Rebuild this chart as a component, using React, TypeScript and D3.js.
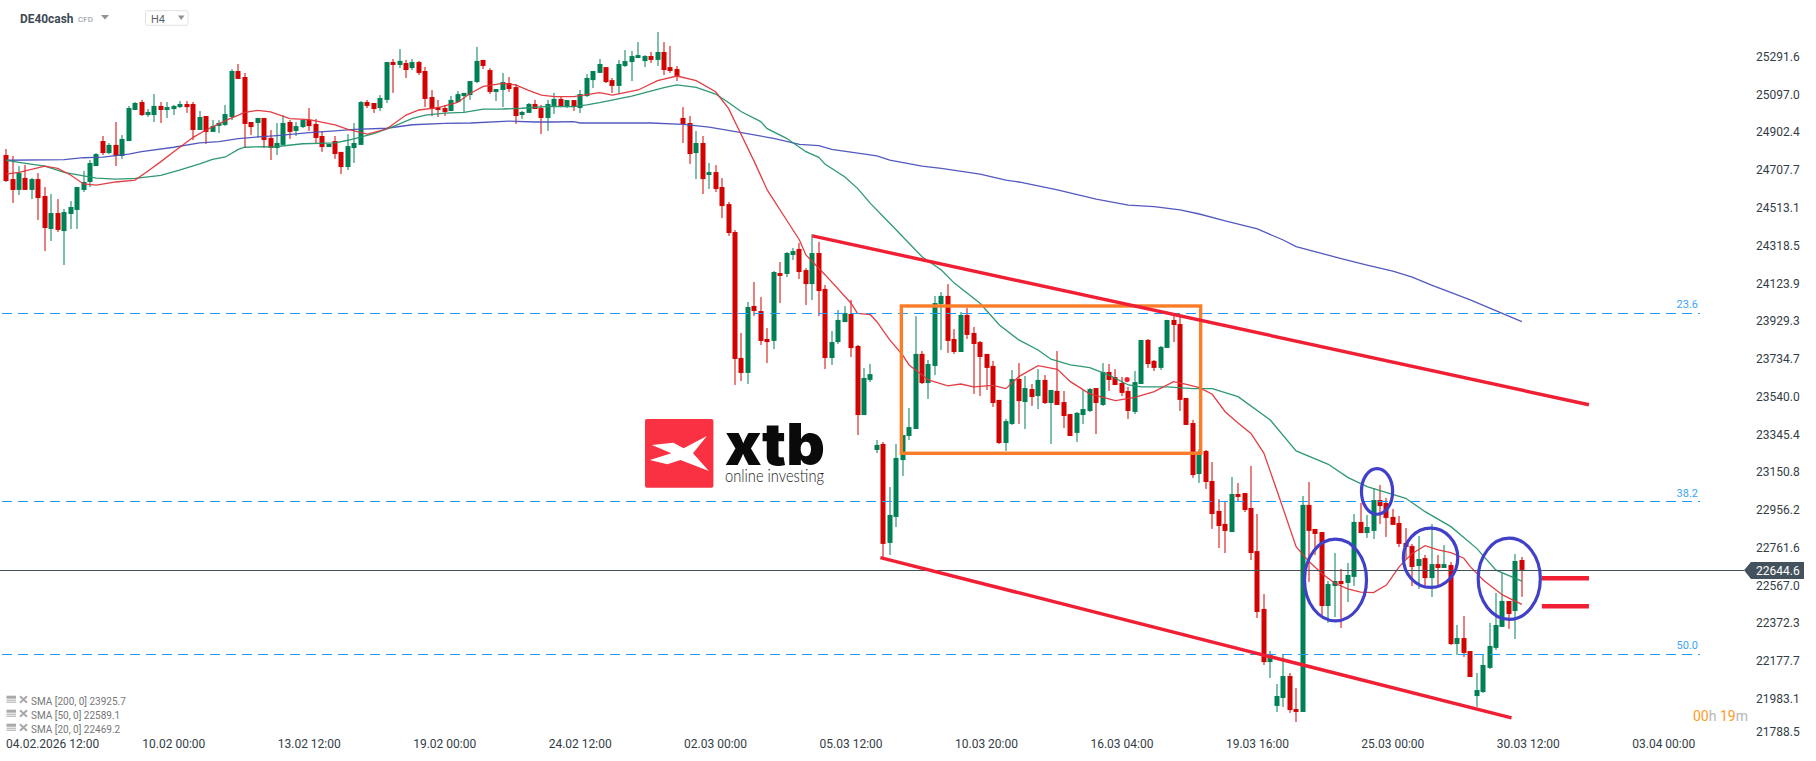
import React from "react";
import * as d3 from "d3";

// H4 candles
const opens = [
  24785,24661,24605,24667,24605,24661,24574,24404,24486,24393,
  24481,24502,24605,24646,24728,24857,24795,24837,24780,24857,
  25017,25058,24991,24991,25038,25017,25022,25032,25048,25048,
  24914,24986,24904,24935,24940,24981,25218,25187,24955,24950,
  24976,24873,24821,24837,24955,24909,24929,24965,24945,24883,
  24826,24857,24801,24723,24821,24837,25058,25053,25027,25069,
  25264,25249,25259,25233,25264,25218,25084,25032,25027,25012,
  25058,25089,25094,25161,25275,25223,25110,25120,25156,25135,
  24991,25002,25048,25027,24976,25037,25074,25037,25068,25027,
  25089,25171,25208,25238,25171,25141,25244,25264,25285,25269,
  25295,25275,25316,25238,25228,24976,24950,24795,24847,24682,
  24697,24620,24532,24388,23739,23662,24007,23981,23837,23827,
  24177,24172,24270,24301,24192,24120,24280,24095,23739,23821,
  23924,23966,23801,23445,23626,23265,23296,22786,22920,23213,
  23337,23373,23760,23610,23698,24017,24059,23837,23770,23961,
  23868,23821,23760,23698,23523,23301,23399,23631,23512,23579,
  23543,23626,23507,23569,23512,23450,23353,23445,23466,23584,
  23497,23667,23641,23610,23569,23461,23605,23832,23724,23688,
  23791,23935,23914,23533,23404,23141,23260,23105,22951,22884,
  22842,23038,23043,22966,22744,22446,22172,21946,21987,22100,
  21930,21915,22982,22858,22842,22461,22564,22590,22580,22611,
  22894,22837,22848,23007,22992,22920,22889,22786,22770,22667,
  22708,22605,22677,22657,22672,22265,22296,22229,21997,22018,
  22142,22245,22353,22487,22435,22698,
];
const highs = [
  24816,24780,24728,24734,24667,24692,24620,24584,24558,24507,
  24548,24620,24703,24759,24795,24883,24847,24955,24888,25038,
  25058,25069,25022,25099,25058,25058,25043,25063,25063,25058,
  25012,24986,24965,24965,25043,25228,25254,25208,24955,24976,
  24976,24914,24950,24991,24965,24955,24971,25027,24971,24909,
  24842,24883,24801,24893,24950,25063,25069,25053,25094,25264,
  25280,25331,25275,25280,25270,25239,25120,25069,25043,25089,
  25115,25105,25166,25342,25275,25233,25125,25208,25187,25151,
  25012,25053,25069,25043,25069,25105,25084,25068,25068,25120,
  25202,25218,25280,25238,25182,25275,25326,25321,25367,25300,
  25316,25419,25367,25347,25244,25032,24986,24909,24883,24744,
  24733,24666,24543,24398,23868,24028,24131,24053,23894,24187,
  24234,24285,24306,24332,24203,24378,24337,24115,23878,23986,
  24007,24038,23806,23687,23708,23316,23306,23074,23296,23342,
  23481,23955,23775,23729,24059,24079,24120,23888,23976,23997,
  23899,23827,23760,23724,23523,23425,23677,23713,23646,23605,
  23682,23651,23574,23775,23569,23450,23461,23574,23584,23584,
  23713,23708,23682,23641,23590,23672,23832,23837,23729,23801,
  23935,23961,23950,23533,23420,23270,23265,23203,23012,23002,
  23126,23095,23043,23183,22935,22523,22229,22059,22209,22116,
  22039,23028,23100,22858,22842,22590,22734,22652,22683,22935,
  22992,22930,23069,23085,23018,22961,22925,22863,22781,22822,
  22724,22884,22724,22775,22688,22363,22410,22229,22116,22209,
  22374,22528,22631,22487,22729,22714,
];
const lows = [
  24646,24538,24579,24605,24558,24450,24290,24342,24388,24218,
  24404,24404,24594,24620,24728,24785,24790,24728,24765,24857,
  25017,24986,24981,24955,24950,24976,24991,25027,25002,24862,
  24914,24842,24904,24898,24935,24965,25177,24821,24888,24873,
  24821,24759,24785,24837,24868,24883,24924,24909,24847,24801,
  24826,24765,24687,24708,24744,24837,25027,25002,25012,25053,
  25105,25233,25182,25223,25197,25032,24986,24981,24986,25012,
  25058,25007,25069,25156,25228,25099,25063,25032,25110,24945,
  24971,25002,25022,24893,24909,24996,25037,25027,25012,25001,
  25084,25130,25208,25156,25105,25099,25238,25166,25285,25238,
  25259,25244,25197,25208,25166,24847,24739,24661,24584,24610,
  24594,24460,24368,23600,23620,23605,23955,23806,23713,23785,
  24022,24156,24244,24146,24012,24038,23955,23682,23703,23811,
  23924,23744,23342,23445,23615,23249,22714,22724,22868,23131,
  23316,23373,23605,23528,23651,23780,23765,23760,23770,23837,
  23554,23543,23574,23487,23296,23260,23394,23399,23373,23492,
  23476,23502,23296,23497,23378,23337,23306,23399,23461,23347,
  23492,23569,23600,23543,23425,23450,23605,23688,23672,23677,
  23791,23821,23466,23394,23121,23095,23064,22858,22760,22734,
  22842,22997,22945,22698,22399,22157,22090,21915,21941,21910,
  21863,21915,22585,22724,22404,22374,22404,22348,22482,22564,
  22837,22812,22806,22884,22817,22879,22765,22703,22564,22549,
  22559,22507,22564,22657,22260,22209,22198,22095,21941,22013,
  22136,22234,22353,22343,22291,22508,
];
const closes = [
  24651,24605,24692,24605,24661,24563,24409,24486,24399,24491,
  24517,24620,24646,24744,24790,24795,24837,24780,24868,25027,
  25053,24991,25007,25038,25017,25032,25038,25048,25032,24914,
  24981,24904,24935,24950,24996,25218,25177,24945,24929,24976,
  24862,24821,24847,24950,24904,24934,24965,24934,24873,24826,
  24842,24790,24723,24831,24847,25058,25038,25022,25079,25264,
  25249,25270,25223,25264,25208,25074,25022,25017,25007,25069,
  25099,25105,25166,25270,25244,25110,25125,25161,25125,24986,
  25007,25048,25022,24976,25048,25074,25037,25068,25032,25099,
  25182,25218,25254,25161,25141,25254,25269,25295,25300,25295,
  25275,25316,25223,25218,25192,24945,24790,24847,24661,24697,
  24610,24522,24383,23734,23662,24002,23981,23827,23821,24182,
  24162,24280,24290,24182,24120,24280,24084,23739,23821,23935,
  23971,23790,23445,23636,23656,23291,22781,22930,23224,23342,
  23383,23760,23610,23708,24022,24059,23827,23770,23961,23858,
  23811,23744,23688,23507,23301,23414,23631,23517,23584,23538,
  23626,23507,23574,23497,23440,23337,23456,23476,23579,23507,
  23667,23626,23600,23559,23466,23615,23832,23708,23688,23796,
  23935,23909,23523,23394,23136,23256,23100,22935,22873,22848,
  23038,23023,22956,22734,22430,22172,22214,21997,22100,21925,
  21915,22982,22848,22832,22461,22574,22590,22574,22621,22894,
  22837,22868,23007,22976,22915,22879,22781,22765,22662,22703,
  22605,22677,22657,22677,22265,22296,22219,22095,22028,22157,
  22255,22363,22487,22420,22693,22647,
];

// moving averages: candle number, then value
const sma200At = [0,9,12,15,19,21,26,30,33,36,39,42,47,51,54,59,63,68,72,78,82,85,88,89,100,105,109,114,119,123,126,128,135,137,142,145,151,155,157,163,169,174,178,182,185,189,194,198,200,207,211,215,218,221,227,235];
const sma200 = [24758,24761,24771,24774,24790,24802,24825,24848,24854,24869,24878,24885,24900,24909,24917,24923,24941,24948,24950,24960,24955,24955,24957,24950,24950,24943,24929,24900,24871,24840,24833,24814,24780,24759,24728,24716,24687,24656,24646,24605,24558,24527,24519,24502,24481,24445,24404,24347,24313,24251,24218,24187,24156,24115,24038,23926];
const sma50At = [0,2,6,9,12,14,17,20,22,24,27,30,32,34,36,37,40,41,46,51,53,57,60,63,65,68,71,74,77,80,84,88,90,92,97,102,104,107,110,112,114,117,118,121,124,126,127,130,132,134,137,142,145,147,151,154,157,160,162,165,168,171,174,176,180,184,187,191,196,200,205,208,211,217,220,224,228,231,235];
const sma50 = [24758,24747,24728,24696,24677,24666,24661,24665,24672,24680,24708,24739,24763,24775,24814,24825,24828,24825,24843,24848,24861,24895,24931,24974,24991,25001,25005,25021,25022,25026,25036,25034,25043,25055,25089,25132,25146,25134,25099,25056,25008,24957,24921,24871,24802,24773,24737,24673,24613,24536,24433,24261,24192,24125,24021,23909,23832,23780,23733,23703,23689,23651,23600,23590,23590,23581,23581,23540,23419,23260,23191,23124,23076,23016,22947,22870,22758,22646,22589];
const sma20At = [0,2,6,8,10,12,14,17,20,22,24,26,29,31,34,37,39,41,44,47,51,53,56,59,62,64,67,70,72,74,77,79,81,83,85,88,92,94,98,101,104,107,110,112,114,116,118,121,123,124,127,131,132,134,135,137,139,140,143,146,148,150,153,155,157,160,163,165,168,172,175,178,181,183,185,187,189,191,193,195,197,200,202,204,206,208,210,212,214,216,218,220,222,224,226,227,229,232,235];
const sma20 = [24687,24696,24728,24716,24682,24636,24630,24646,24656,24703,24751,24802,24876,24914,24962,25005,25015,25007,24972,24967,24940,24917,24893,24919,24991,25017,25029,25056,25103,25139,25154,25146,25118,25094,25086,25086,25106,25094,25120,25168,25192,25168,25111,25025,24888,24751,24605,24450,24347,24270,24167,24021,23969,23962,23926,23832,23754,23703,23626,23595,23605,23590,23598,23581,23643,23700,23681,23617,23554,23519,23536,23566,23617,23603,23586,23552,23462,23404,23350,23249,23059,22767,22690,22629,22578,22549,22533,22530,22569,22664,22732,22772,22750,22736,22707,22664,22595,22518,22469];

const priceTicks = [25291.6,25097.0,24902.4,24707.7,24513.1,24318.5,24123.9,23929.3,23734.7,23540.0,23345.4,23150.8,22956.2,22761.6,22567.0,22372.3,22177.7,21983.1,21788.5];
const timeTicks = ["10.02 00:00","13.02 12:00","19.02 00:00","24.02 12:00","02.03 00:00","05.03 12:00","10.03 20:00","16.03 04:00","19.03 16:00","25.03 00:00","30.03 12:00","03.04 00:00"];
const timeTickAt = [26,47,68,89,110,131,152,173,194,215,236,257];

const fibLevels = [23969,22997,22212];
const fibNames = ["23.6","38.2","50.0"];
const lastPrice = 22644.6;
const legendRows = ["SMA [200, 0] 23925.7","SMA [50, 0] 22589.1","SMA [20, 0] 22469.2"];

// drawn on the chart by hand: [candle, price, candle, price]
const trendLines = [
  [125,24368,245.4,23498],
  [135.55,22710,233.4,21884],
  [238.1,22604,245.4,22604],
  [238.1,22460,245.4,22460],
];
const orangeBox = [138.8,24007,185.2,23248];
const circles = [
  [201.07,22813,211.15,22377],
  [209.9,23177,215.2,22926],
  [216.4,22870,225.3,22549],
  [228,22818,238.1,22384],
];
const dotAt = [173.8,23628];

const width = 1816;
const height = 761;
const red = "#d10303";
const green = "#028055";

export default function App() {
  const x = d3.scaleLinear().domain([0, 235]).range([6.1, 1521.85]);
  const y = d3.scaleLinear().domain([25291.6, 21788.5]).range([56.7, 736.5]);

  const lineOf = (at: number[], vals: number[]) =>
    d3.line<number>().x((d, i) => x(at[i])).y((d) => y(d))(vals) as string;

  // crisp 1px horizontal rules
  const snap = (v: number) => Math.floor(v) + 0.5;
  const bodyW = 5;

  return (
    <svg width={width} height={height} style={{ position: "absolute", left: 0, top: 0, display: "block", background: "#fff", fontFamily: "Roboto" }}>
      {/* xtb logo */}
      <rect x={645} y={419} width={68.4} height={68.7} rx={2} fill="#f93142" />
      <polygon
        fill="#fff"
        points="651.8,445 673.4,442.7 683.6,448.3 706.9,436 693,453.3 708.9,471 680.4,460 667.3,464.3 649.8,460 671.4,453.3"
      />
      <text x={725} y={464.5} fontFamily="Inter" fontWeight={900} fontSize={58} textLength={100} lengthAdjust="spacingAndGlyphs" fill="#0a0a0a">xtb</text>
      <text x={725} y={482} fontFamily="Lato" fontWeight={300} fontSize={17} textLength={99} lengthAdjust="spacingAndGlyphs" fill="#222">online investing</text>

      {/* candles */}
      {opens.map((o, i) => {
        const c = closes[i];
        const col = c >= o ? green : red;
        const top = y(Math.max(o, c));
        const bot = y(Math.min(o, c));
        const cx = Math.round(x(i));
        return (
          <g key={i} fill={col}>
            <rect x={cx - 0.5} y={y(highs[i])} width={1} height={y(lows[i]) - y(highs[i])} />
            <rect x={cx - bodyW / 2} y={top} width={bodyW} height={Math.max(bot - top, 1)} />
          </g>
        );
      })}

      {/* moving averages */}
      <path d={lineOf(sma200At, sma200)} fill="none" stroke="#4a50bc" strokeOpacity={0.95} strokeWidth={1.3} />
      <path d={lineOf(sma50At, sma50)} fill="none" stroke="#23936c" strokeOpacity={0.95} strokeWidth={1.3} />
      <path d={lineOf(sma20At, sma20)} fill="none" stroke="#e0343a" strokeOpacity={0.95} strokeWidth={1.3} />

      {/* fibonacci levels */}
      {fibLevels.map((f, i) => (
        <g key={f}>
          <line x1={2} x2={1700} y1={snap(y(f))} y2={snap(y(f))} stroke="#1e9bfa" strokeWidth={1} strokeDasharray="10 6" />
          <text x={1698} y={y(f) - 5} textAnchor="end" fontSize={11} fill="#3aa5f8">{fibNames[i]}</text>
        </g>
      ))}

      {/* last price */}
      <line x1={0} x2={1744} y1={snap(y(lastPrice))} y2={snap(y(lastPrice))} stroke="#44525e" strokeWidth={1} />

      {/* drawings */}
      <rect
        x={x(orangeBox[0])}
        y={y(orangeBox[1])}
        width={x(orangeBox[2]) - x(orangeBox[0])}
        height={y(orangeBox[3]) - y(orangeBox[1])}
        fill="none"
        stroke="#fb7d28"
        strokeWidth={3.4}
      />
      {trendLines.map((t, i) => (
        <line key={i} x1={x(t[0])} y1={y(t[1])} x2={x(t[2])} y2={y(t[3])} stroke="#f01f34" strokeWidth={i < 2 ? 3.4 : 4.5} />
      ))}
      {circles.map((c, i) => (
        <ellipse
          key={i}
          cx={(x(c[0]) + x(c[2])) / 2}
          cy={(y(c[1]) + y(c[3])) / 2}
          rx={(x(c[2]) - x(c[0])) / 2 - 1.5}
          ry={(y(c[3]) - y(c[1])) / 2 - 1.5}
          fill="none"
          stroke="#4040c8"
          strokeWidth={3.2}
        />
      ))}
      <circle cx={x(dotAt[0])} cy={y(dotAt[1])} r={2.6} fill="#f01f34" />

      {/* price axis */}
      {priceTicks.map((p) => (
        <text key={p} x={1756} y={Math.min(y(p), 731.7)} dy="0.35em" fontSize={12} fill="#333d46">
          {p.toFixed(1)}
        </text>
      ))}
      <path d={`M1744,${y(lastPrice)} L1751,562 L1804,562 L1804,579 L1751,579 Z`} fill="#44525e" />
      <text x={1756} y={y(lastPrice)} dy="0.35em" fontSize={12} fill="#fff">{lastPrice.toFixed(1)}</text>

      {/* time axis */}
      <text x={6} y={744} dy="0.35em" fontSize={12} fill="#333d46">04.02.2026 12:00</text>
      {timeTicks.map((t, i) => (
        <text key={t} x={x(timeTickAt[i])} y={744} dy="0.35em" textAnchor="middle" fontSize={12} fill="#333d46">{t}</text>
      ))}

      {/* countdown */}
      <text x={1693} y={716} dy="0.35em" fontSize={14}>
        <tspan fill="#ff9a1e">00</tspan>
        <tspan fill="#b5b5b5">h </tspan>
        <tspan fill="#ff9a1e">19</tspan>
        <tspan fill="#b5b5b5">m</tspan>
      </text>

      {/* header */}
      <text x={20} y={18.5} dy="0.35em" fontSize={12} fontWeight={700} textLength={53.5} lengthAdjust="spacingAndGlyphs" fill="#3d4a55">DE40cash</text>
      <text x={78} y={19.5} dy="0.35em" fontSize={8} fill="#8c9399">CFD</text>
      <path d="M101,15 L109,15 L105,19.5 Z" fill="#8c9399" />
      <rect x={145.5} y={10.7} width={42.5} height={14.6} rx={2} fill="#fff" stroke="#dfe2e5" />
      <text x={151} y={19} dy="0.35em" fontSize={11} fill="#5a646d">H4</text>
      <path d="M178,15.5 L184.5,15.5 L181.2,20 Z" fill="#8c9399" />

      {/* indicator legend */}
      {legendRows.map((r, i) => {
        const ly = 701.7 + i * 14;
        return (
          <g key={r}>
            <g fill="#a9a9a9">
              <rect x={6.5} y={ly - 6} width={9.5} height={3} />
              <rect x={6.5} y={ly - 2} width={9.5} height={1} />
              <rect x={6.5} y={ly} width={9.5} height={1} />
            </g>
            <path d={`M20,${ly - 5.5} L27,${ly + 1} M27,${ly - 5.5} L20,${ly + 1}`} stroke="#a9a9a9" strokeWidth={2} />
            <text x={31} y={ly} dy="0.35em" fontSize={10} fill="#777">{r}</text>
          </g>
        );
      })}
    </svg>
  );
}
